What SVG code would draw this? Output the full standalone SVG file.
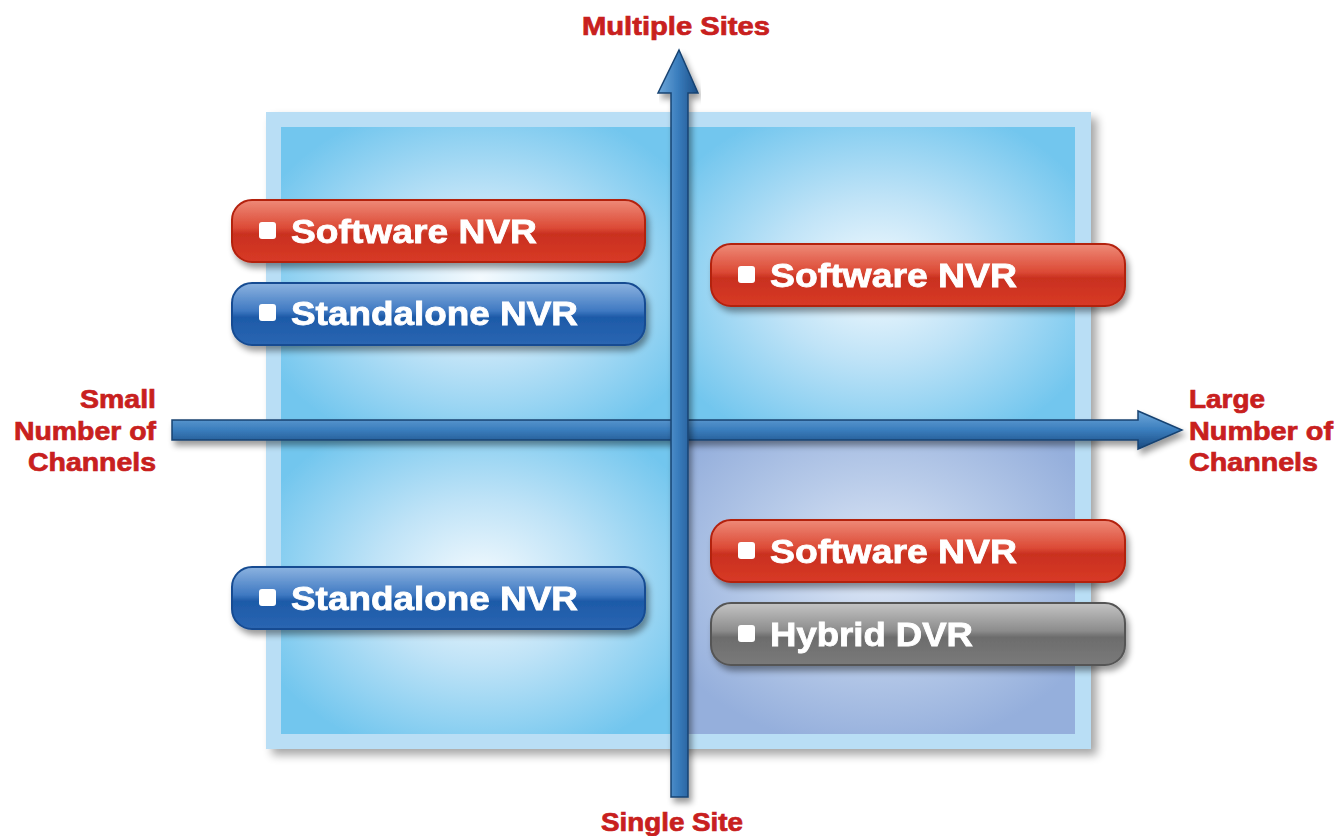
<svg xmlns="http://www.w3.org/2000/svg" width="1338" height="836" viewBox="0 0 1338 836">
<defs>
<style>
.lbl{font-family:"Liberation Sans",Arial,sans-serif;font-weight:bold;fill:#fff;font-size:33px;stroke:#fff;stroke-width:0.8}
.ax{font-family:"Liberation Sans",Arial,sans-serif;font-weight:bold;fill:#c8201e;font-size:25px;stroke:#c8201e;stroke-width:0.7}
.bul{fill:#fff}
</style>
<filter id="sh" x="-10%" y="-10%" width="125%" height="130%">
<feGaussianBlur in="SourceAlpha" stdDeviation="5"/>
<feOffset dx="6" dy="6"/>
<feComponentTransfer><feFuncA type="linear" slope="0.35"/></feComponentTransfer>
<feMerge><feMergeNode/><feMergeNode in="SourceGraphic"/></feMerge>
</filter>
<filter id="psh" x="-5%" y="-20%" width="112%" height="160%">
<feGaussianBlur in="SourceAlpha" stdDeviation="3"/>
<feOffset dx="3" dy="5"/>
<feComponentTransfer><feFuncA type="linear" slope="0.4"/></feComponentTransfer>
<feMerge><feMergeNode/><feMergeNode in="SourceGraphic"/></feMerge>
</filter>
<radialGradient id="qb" cx="0.5" cy="0.5" r="0.6">
<stop offset="0" stop-color="#f4fafe"/>
<stop offset="0.45" stop-color="#bfe3f7"/>
<stop offset="1" stop-color="#72c6ee"/>
</radialGradient>
<radialGradient id="qp" cx="0.5" cy="0.45" r="0.6">
<stop offset="0" stop-color="#dfe8f6"/>
<stop offset="0.5" stop-color="#b8cbe9"/>
<stop offset="1" stop-color="#95afdc"/>
</radialGradient>
<linearGradient id="red" x1="0" y1="0" x2="0" y2="1">
<stop offset="0" stop-color="#ee8a78"/>
<stop offset="0.45" stop-color="#dc4a36"/>
<stop offset="0.55" stop-color="#c9301f"/>
<stop offset="1" stop-color="#d83a26"/>
</linearGradient>
<linearGradient id="blue" x1="0" y1="0" x2="0" y2="1">
<stop offset="0" stop-color="#8cb3e0"/>
<stop offset="0.45" stop-color="#3f79c2"/>
<stop offset="0.55" stop-color="#1d5aa8"/>
<stop offset="1" stop-color="#2a66b2"/>
</linearGradient>
<linearGradient id="gray" x1="0" y1="0" x2="0" y2="1">
<stop offset="0" stop-color="#c4c4c4"/>
<stop offset="0.45" stop-color="#8c8c8c"/>
<stop offset="0.55" stop-color="#6c6c6c"/>
<stop offset="1" stop-color="#7a7a7a"/>
</linearGradient>
<linearGradient id="av" x1="0" y1="0" x2="1" y2="0">
<stop offset="0" stop-color="#6fa8da"/>
<stop offset="0.5" stop-color="#3a7dbd"/>
<stop offset="1" stop-color="#1c4f88"/>
</linearGradient>
<linearGradient id="ah" x1="0" y1="0" x2="0" y2="1">
<stop offset="0" stop-color="#6fa8da"/>
<stop offset="0.5" stop-color="#3a7dbd"/>
<stop offset="1" stop-color="#1a4a80"/>
</linearGradient>
</defs>

<g id="frame" filter="url(#sh)">
<rect x="266" y="112" width="825" height="637" fill="#b9def5"/>
<rect x="281" y="127" width="399" height="303" fill="url(#qb)"/>
<rect x="680" y="127" width="395" height="303" fill="url(#qb)"/>
<rect x="281" y="430" width="399" height="304" fill="url(#qb)"/>
<rect x="680" y="430" width="395" height="304" fill="url(#qp)"/>
</g>

<g id="connectors">
<g id="axis-h" filter="url(#psh)">
<path d="M172 420 H1138 V411 L1182 430 L1138 449 V440 H172 Z" fill="url(#ah)" stroke="#174372" stroke-width="1.5"/>
</g>
<g id="axis-v" filter="url(#psh)">
<path d="M671 797 V93 H658 L679 50 L698 93 H688 V797 Z" fill="url(#av)" stroke="#174372" stroke-width="1.5"/>
</g>
</g>

<g id="tl-software" filter="url(#psh)">
<rect x="232" y="200" width="413" height="62" rx="20" fill="url(#red)" stroke="#b3200f" stroke-width="2"/>
<rect x="259" y="222" width="17" height="17" rx="3" class="bul"/>
<text x="291" y="243" class="lbl" textLength="246" lengthAdjust="spacingAndGlyphs">Software NVR</text>
</g>
<g id="tl-standalone" filter="url(#psh)">
<rect x="232" y="283" width="413" height="62" rx="20" fill="url(#blue)" stroke="#174c92" stroke-width="2"/>
<rect x="259" y="304" width="17" height="17" rx="3" class="bul"/>
<text x="291" y="325" class="lbl" textLength="287" lengthAdjust="spacingAndGlyphs">Standalone NVR</text>
</g>
<g id="tr-software" filter="url(#psh)">
<rect x="711" y="244" width="414" height="62" rx="20" fill="url(#red)" stroke="#b3200f" stroke-width="2"/>
<rect x="738" y="266" width="17" height="17" rx="3" class="bul"/>
<text x="770" y="287" class="lbl" textLength="247" lengthAdjust="spacingAndGlyphs">Software NVR</text>
</g>
<g id="br-software" filter="url(#psh)">
<rect x="711" y="520" width="414" height="62" rx="20" fill="url(#red)" stroke="#b3200f" stroke-width="2"/>
<rect x="738" y="542" width="17" height="17" rx="3" class="bul"/>
<text x="770" y="563" class="lbl" textLength="247" lengthAdjust="spacingAndGlyphs">Software NVR</text>
</g>
<g id="br-hybrid" filter="url(#psh)">
<rect x="711" y="603" width="414" height="62" rx="20" fill="url(#gray)" stroke="#555" stroke-width="2"/>
<rect x="738" y="625" width="17" height="17" rx="3" class="bul"/>
<text x="770" y="646" class="lbl" textLength="203" lengthAdjust="spacingAndGlyphs">Hybrid DVR</text>
</g>
<g id="bl-standalone" filter="url(#psh)">
<rect x="232" y="567" width="413" height="62" rx="20" fill="url(#blue)" stroke="#174c92" stroke-width="2"/>
<rect x="259" y="589" width="17" height="17" rx="3" class="bul"/>
<text x="291" y="610" class="lbl" textLength="287" lengthAdjust="spacingAndGlyphs">Standalone NVR</text>
</g>

<g id="label-top">
<text x="582" y="35" class="ax" textLength="188" lengthAdjust="spacingAndGlyphs">Multiple Sites</text>
</g>
<g id="label-bottom">
<text x="601" y="831" class="ax" textLength="142" lengthAdjust="spacingAndGlyphs">Single Site</text>
</g>
<g id="label-left">
<text x="80" y="408" class="ax" textLength="76" lengthAdjust="spacingAndGlyphs">Small</text>
<text x="14" y="440" class="ax" textLength="142" lengthAdjust="spacingAndGlyphs">Number of</text>
<text x="28" y="471" class="ax" textLength="128" lengthAdjust="spacingAndGlyphs">Channels</text>
</g>
<g id="label-right">
<text x="1189" y="408" class="ax" textLength="76" lengthAdjust="spacingAndGlyphs">Large</text>
<text x="1189" y="440" class="ax" textLength="144" lengthAdjust="spacingAndGlyphs">Number of</text>
<text x="1189" y="471" class="ax" textLength="129" lengthAdjust="spacingAndGlyphs">Channels</text>
</g>
</svg>
